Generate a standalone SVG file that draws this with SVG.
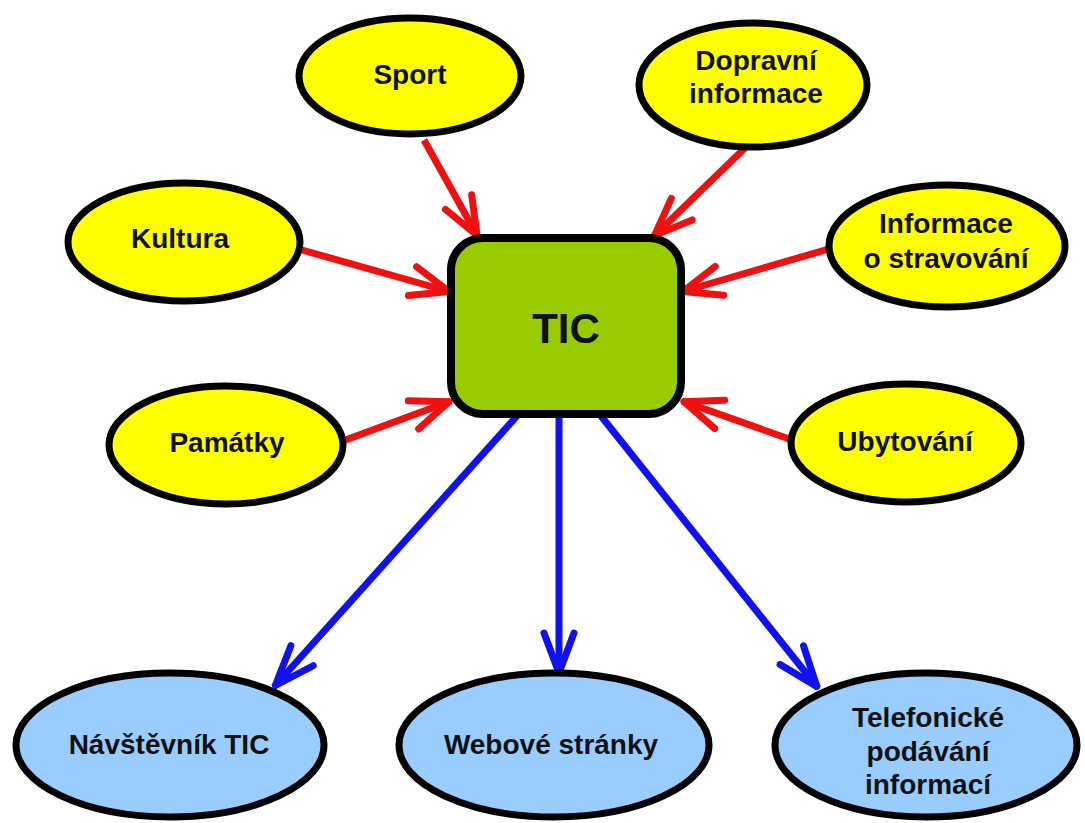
<svg xmlns="http://www.w3.org/2000/svg" width="1085" height="823" viewBox="0 0 1085 823">
<style>
.yel{fill:#ffff00;stroke:#000;stroke-width:7}
.blu{fill:#99ccff;stroke:#000;stroke-width:7}
.t{font-family:"Liberation Sans",Arial,sans-serif;font-weight:bold;font-size:28px;fill:#111;text-anchor:middle}
.red{stroke:#f01010;stroke-width:7;fill:none}
.bl{stroke:#1010f0;stroke-width:7;fill:none}
</style>
<defs>
<marker id="mr" markerUnits="userSpaceOnUse" orient="auto" overflow="visible" refX="0" refY="0" markerWidth="1" markerHeight="1">
<path d="M-40,-15 L-2,0 L-40,15" fill="none" stroke="#f01010" stroke-width="7" stroke-linecap="round" stroke-linejoin="round"/>
</marker>
<marker id="mb" markerUnits="userSpaceOnUse" orient="auto" overflow="visible" refX="0" refY="0" markerWidth="1" markerHeight="1">
<path d="M-42,-15 L-2,0 L-42,15" fill="none" stroke="#1010f0" stroke-width="7" stroke-linecap="round" stroke-linejoin="round"/>
</marker>
</defs>
<rect width="1085" height="823" fill="#fff"/>
<g id="connectors">
<line class="red" x1="424" y1="140" x2="478" y2="237" marker-end="url(#mr)"/>
<line class="red" x1="747" y1="146" x2="653" y2="237" marker-end="url(#mr)"/>
<line class="red" x1="302" y1="250" x2="451" y2="292" marker-end="url(#mr)"/>
<line class="red" x1="832" y1="248" x2="681" y2="292" marker-end="url(#mr)"/>
<line class="red" x1="340" y1="442" x2="451" y2="401" marker-end="url(#mr)"/>
<line class="red" x1="792" y1="440" x2="682" y2="401" marker-end="url(#mr)"/>
<line class="bl" x1="517" y1="416" x2="274" y2="687" marker-end="url(#mb)"/>
<line class="bl" x1="559" y1="416" x2="559" y2="675" marker-end="url(#mb)"/>
<line class="bl" x1="601" y1="416" x2="818" y2="688" marker-end="url(#mb)"/>
</g>
<g id="tic">
<rect x="451" y="238" width="230" height="176" rx="32" fill="#99cc00" stroke="#000" stroke-width="8"/>
<text x="566" y="343" class="t" style="font-size:42px">TIC</text>
</g>
<g id="sport">
<ellipse class="yel" cx="410" cy="76" rx="111" ry="58"/>
<text x="410" y="84" class="t">Sport</text>
</g>
<g id="doprava">
<ellipse class="yel" cx="753" cy="85" rx="114" ry="62"/>
<text x="756" y="70" class="t">Dopravní</text>
<text x="756" y="103" class="t">informace</text>
</g>
<g id="kultura">
<ellipse class="yel" cx="184" cy="242" rx="116" ry="59"/>
<text x="180" y="248" class="t">Kultura</text>
</g>
<g id="stravovani">
<ellipse class="yel" cx="947" cy="246" rx="118" ry="61"/>
<text x="946" y="233" class="t">Informace</text>
<text x="946" y="268" class="t">o stravování</text>
</g>
<g id="pamatky">
<ellipse class="yel" cx="226" cy="445" rx="117" ry="59"/>
<text x="227" y="452" class="t">Památky</text>
</g>
<g id="ubytovani">
<ellipse class="yel" cx="906" cy="443" rx="115" ry="59"/>
<text x="905" y="451" class="t">Ubytování</text>
</g>
<g id="navstevnik">
<ellipse class="blu" cx="170" cy="745" rx="154" ry="72"/>
<text x="169" y="754" class="t">Návštěvník TIC</text>
</g>
<g id="web">
<ellipse class="blu" cx="554" cy="745" rx="155" ry="72"/>
<text x="551" y="754" class="t">Webové stránky</text>
</g>
<g id="telefon">
<ellipse class="blu" cx="926" cy="745" rx="151" ry="72"/>
<text x="928" y="727" class="t">Telefonické</text>
<text x="928" y="761" class="t">podávání</text>
<text x="928" y="794" class="t">informací</text>
</g>
</svg>
